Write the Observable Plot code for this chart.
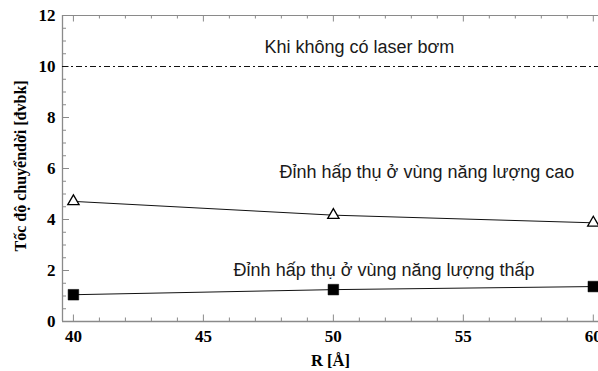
<!DOCTYPE html>
<html>
<head>
<meta charset="utf-8">
<script src="https://cdn.jsdelivr.net/npm/d3@7"></script>
<script src="https://cdn.jsdelivr.net/npm/@observablehq/plot@0.6"></script>
<style>
  html, body { margin: 0; padding: 0; background: #fff; }
  svg { display: block; }
</style>
</head>
<body>
<div id="chart"></div>
<script>
// ---- data ----
const R = [40, 50, 60];
const highPeak = [4.71, 4.17, 3.87];   // Đỉnh hấp thụ ở vùng năng lượng cao
const lowPeak = [1.05, 1.25, 1.37];    // Đỉnh hấp thụ ở vùng năng lượng thấp
const noPumpLevel = [10];              // Khi không có laser bơm
const xTickLabels = [40, 45, 50, 55, 60];
const yTickLabels = [0, 2, 4, 6, 8, 10, 12];
const xMinorTicks = d3.range(40, 61, 1);
const yMinorTicks = d3.range(0, 12.01, 0.5);
const annotations = [
  {x: 51.0, y: 10.74, text: "Khi không có laser bơm"},
  {x: 53.6, y: 5.84, text: "Đỉnh hấp thụ ở vùng năng lượng cao"},
  {x: 51.95, y: 2.03, text: "Đỉnh hấp thụ ở vùng năng lượng thấp"}
];
const xLabel = "R [Å]";
const yLabel = "Tốc độ chuyểndời [đvbk]";

const high = R.map((r, i) => ({r, v: highPeak[i]}));
const low = R.map((r, i) => ({r, v: lowPeak[i]}));

const xDomain = [39.58, 60.2];
const yDomain = [0, 12];
const frameColor = "#8a8a8a";
const pxX = (xDomain[1] - xDomain[0]) / (598 - 62);
const pxY = (yDomain[1] - yDomain[0]) / (371 - 15 - 50);

const serif = "'Liberation Serif', 'Times New Roman', serif";
const sans = "'Liberation Sans', Arial, sans-serif";

const chart = Plot.plot({
  width: 598,
  height: 371,
  marginLeft: 62,
  marginRight: 0,
  marginTop: 15,
  marginBottom: 50,
  style: {fontFamily: serif, background: "#fff"},
  x: {domain: xDomain, axis: null},
  y: {domain: yDomain, axis: null},
  marks: [
    // frame: left, bottom, top
    Plot.ruleX([xDomain[0]], {stroke: frameColor, strokeWidth: 1.3}),
    Plot.ruleY([yDomain[0]], {stroke: frameColor, strokeWidth: 1.3}),
    Plot.ruleY([yDomain[1]], {stroke: frameColor, strokeWidth: 1}),
    // bottom ticks (inward)
    Plot.ruleX(xMinorTicks, {x: d => d, y1: 0, y2: d => (d % 5 === 0 ? 6.5 : 3.5) * pxY, stroke: frameColor}),
    // top ticks (inward)
    Plot.ruleX(xMinorTicks, {x: d => d, y1: 12, y2: d => 12 - (d % 5 === 0 ? 6.5 : 3.5) * pxY, stroke: frameColor}),
    // left ticks (inward)
    Plot.ruleY(yMinorTicks, {y: d => d, x1: xDomain[0], x2: d => xDomain[0] + (d % 2 === 0 ? 7 : 4) * pxX, stroke: frameColor}),
    // tick labels
    Plot.text(xTickLabels, {x: d => d, frameAnchor: "bottom", dy: 8, lineAnchor: "top", text: d => String(d),
      fontSize: 17, fontWeight: "bold", fill: "#000"}),
    Plot.text(yTickLabels, {y: d => d, frameAnchor: "left", dx: -7, textAnchor: "end", text: d => String(d),
      fontSize: 17, fontWeight: "bold", fill: "#000"}),
    // axis labels
    Plot.text([xLabel], {frameAnchor: "bottom", dy: 44, text: d => d, fontSize: 16.5, fontWeight: "bold", fill: "#000"}),
    Plot.text([yLabel], {x: () => xDomain[0] - 42 * pxX, y: () => 6.1, rotate: -90, text: d => d,
      fontSize: 16, fontWeight: "bold", fill: "#000"}),
    // no pump reference line
    Plot.ruleY(noPumpLevel, {x1: xDomain[0], x2: xDomain[1], stroke: "#111", strokeWidth: 1.1, strokeDasharray: "6,3,2,3"}),
    // series lines
    Plot.line(high, {x: "r", y: "v", stroke: "#111", strokeWidth: 1}),
    Plot.line(low, {x: "r", y: "v", stroke: "#111", strokeWidth: 1}),
    // markers
    Plot.dot(high, {x: "r", y: "v", symbol: "triangle", r: 4.2, stroke: "#000", strokeWidth: 1.3, fill: "#fff"}),
    Plot.dot(low, {x: "r", y: "v", symbol: "square", r: 6.0, fill: "#000", stroke: "#000", strokeWidth: 0.5}),
    // annotations
    Plot.text(annotations, {x: "x", y: "y", text: "text", fontFamily: sans, fontSize: 18, fill: "#1a1a1a"})
  ]
});
document.getElementById("chart").appendChild(chart);
</script>
</body>
</html>
